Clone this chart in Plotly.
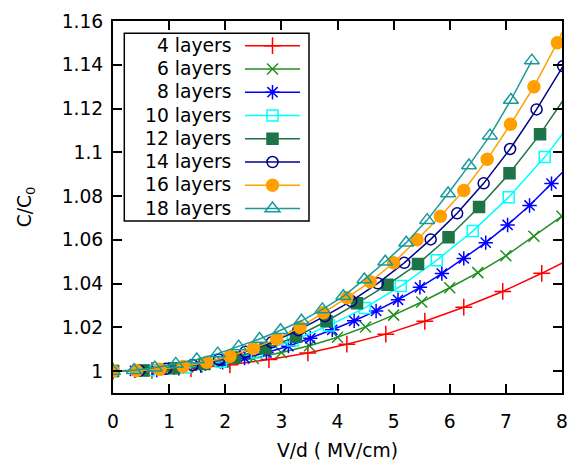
import plotly.graph_objects as go

# ---- data ----
x4 = [0, 0.694, 1.389, 2.083, 2.778, 3.472, 4.167, 4.861, 5.556, 6.25, 6.944, 7.639, 8.333]
y4 = [1.0, 1.0003, 1.0012, 1.0029, 1.0053, 1.0083, 1.0123, 1.0169, 1.0228, 1.0292, 1.0364, 1.0447, 1.0536]

x6 = [0, 0.5, 1.0, 1.5, 2.0, 2.5, 3.0, 3.5, 4.0, 4.5, 5.0, 5.5, 6.0, 6.5, 7.0, 7.5, 8.0]
y6 = [1.0, 1.0002, 1.0008, 1.0019, 1.0036, 1.0058, 1.0085, 1.0116, 1.0155, 1.0202, 1.0256,
      1.0316, 1.0381, 1.0450, 1.0527, 1.0616, 1.0708]

x8 = [0, 0.391, 0.781, 1.172, 1.563, 1.953, 2.344, 2.734, 3.125, 3.516, 3.906, 4.297, 4.688,
      5.078, 5.469, 5.859, 6.25, 6.641, 7.031, 7.422, 7.813, 8.203]
y8 = [1.0, 1.0001, 1.0005, 1.0013, 1.0025, 1.0040, 1.0060, 1.0085, 1.0114, 1.0150, 1.0189,
      1.0230, 1.0275, 1.0326, 1.0383, 1.0446, 1.0515, 1.0587, 1.0668, 1.0757, 1.0857, 1.0960]

x10 = [0, 0.641, 1.282, 1.923, 2.564, 3.205, 3.846, 4.487, 5.128, 5.769, 6.410, 7.051, 7.692, 8.333]
y10 = [1.0, 1.0004, 1.0017, 1.0043, 1.0085, 1.0140, 1.0208, 1.0289, 1.0389, 1.0507, 1.0640,
       1.0795, 1.0978, 1.1190]

x12 = [0, 0.543, 1.087, 1.630, 2.174, 2.717, 3.261, 3.804, 4.348, 4.891, 5.435, 5.978, 6.522,
       7.065, 7.609, 8.152]
y12 = [1.0, 1.0003, 1.0013, 1.0032, 1.0062, 1.0104, 1.0157, 1.0228, 1.0310, 1.0395, 1.0490,
       1.0612, 1.0750, 1.0904, 1.1083, 1.1288]

x14 = [0, 0.472, 0.943, 1.415, 1.887, 2.358, 2.830, 3.302, 3.774, 4.245, 4.717, 5.189, 5.660,
       6.132, 6.604, 7.075, 7.547, 8.019]
y14 = [1.0, 1.0002, 1.0011, 1.0028, 1.0053, 1.0088, 1.0132, 1.0187, 1.0251, 1.0320, 1.0401,
       1.0495, 1.0602, 1.0721, 1.0858, 1.1015, 1.1196, 1.1394]

x16 = [0, 0.417, 0.833, 1.25, 1.667, 2.083, 2.5, 2.917, 3.333, 3.75, 4.167, 4.583, 5.0, 5.417,
       5.833, 6.25, 6.667, 7.083, 7.5, 7.917, 8.333]
y16 = [1.0, 1.0002, 1.0008, 1.0021, 1.0041, 1.0068, 1.0103, 1.0147, 1.0200, 1.0267, 1.0335,
       1.0408, 1.0495, 1.0600, 1.0708, 1.0825, 1.0968, 1.1128, 1.1300, 1.1501, 1.1730]

x18 = [0, 0.373, 0.746, 1.119, 1.493, 1.866, 2.239, 2.612, 2.985, 3.358, 3.731, 4.104, 4.478,
       4.851, 5.224, 5.597, 5.970, 6.343, 6.716, 7.090, 7.463]
y18 = [1.0, 1.0004, 1.0015, 1.0033, 1.0053, 1.0080, 1.0112, 1.0147, 1.0187, 1.0230, 1.0282,
       1.0342, 1.0419, 1.0500, 1.0587, 1.0690, 1.0812, 1.0940, 1.1076, 1.1239, 1.1419]

names = ["4 layers", "6 layers", "8 layers", "10 layers", "12 layers", "14 layers", "16 layers", "18 layers"]
xs = [x4, x6, x8, x10, x12, x14, x16, x18]
ys = [y4, y6, y8, y10, y12, y14, y16, y18]

y_tickvals = [1.0, 1.02, 1.04, 1.06, 1.08, 1.10, 1.12, 1.14, 1.16]
y_ticktext = ["1", "1.02", "1.04", "1.06", "1.08", "1.1", "1.12", "1.14", "1.16"]
x_tickvals = [0, 1, 2, 3, 4, 5, 6, 7, 8]

# ---- styles ----
colors = ["#ff0000", "#1f8f1f", "#0000ff", "#00ffff", "#1d7446", "#00008b", "#ffa000", "#199a9a"]
symbols = ["cross-thin-open", "x-thin-open", "asterisk-open", "square-open", "square",
           "circle-open", "circle", "triangle-up-open"]
sizes = [12, 11, 12, 11, 11, 11, 12, 13]

FONT = "DejaVu Sans, Liberation Sans, sans-serif"
FS = 18.7

W, H = 567, 461
ML, MR, MT, MB = 113, 5, 21, 68
PW, PH = W - ML - MR, H - MT - MB

def px_x(px):
    return (px - ML) / PW

def px_y(py):
    return (H - MB - py) / PH

fig = go.Figure()
for n, x, y, c, s, sz in zip(names, xs, ys, colors, symbols, sizes):
    fig.add_trace(go.Scatter(
        x=x, y=y, name="\u00a0", mode="lines+markers",
        hovertext=n, hoverinfo="x+y+text",
        line=dict(color=c, width=1.5),
        marker=dict(symbol=s, size=sz, color=c, line=dict(color=c, width=1.5)),
    ))

axis_common = dict(
    showline=True, linecolor="black", linewidth=2, mirror="ticks",
    ticks="inside", ticklen=9, tickwidth=1.5, tickcolor="black",
    showgrid=False, zeroline=False, automargin=False,
    ticklabeloverflow="allow",
    tickfont=dict(family=FONT, size=FS, color="black"),
)

# legend frame (gnuplot style key box) and right-aligned key texts
row_px = [45.0, 68.3, 91.6, 115.0, 138.3, 161.6, 184.9, 208.2]
annotations = [
    dict(x=px_x(232.7), y=px_y(py), xref="paper", yref="paper", text=n,
         showarrow=False, xanchor="right", yanchor="middle",
         font=dict(family=FONT, size=FS, color="black"))
    for n, py in zip(names, row_px)
]
shapes = [dict(type="rect", xref="paper", yref="paper",
               x0=px_x(124.3), x1=px_x(309), y0=px_y(221), y1=px_y(33.3),
               line=dict(color="black", width=1.5), fillcolor="white", layer="above")]

fig.update_layout(
    width=W, height=H,
    margin=dict(l=ML, r=MR, t=MT, b=MB),
    paper_bgcolor="white", plot_bgcolor="white",
    font=dict(family=FONT, size=FS, color="black"),
    showlegend=True,
    legend=dict(
        x=px_x(240), y=px_y(29), xanchor="left", yanchor="top",
        bgcolor="rgba(0,0,0,0)", borderwidth=0,
        font=dict(family=FONT, size=15.6, color="black"),
        itemwidth=55, traceorder="normal", tracegroupgap=0,
    ),
    annotations=annotations,
    shapes=shapes,
)
fig.update_xaxes(
    range=[0, 8], tickvals=x_tickvals,
    title=dict(text="V/d ( MV/cm)", font=dict(family=FONT, size=FS), standoff=15),
    ticklabelstandoff=11,
    **axis_common,
)
fig.update_yaxes(
    range=[0.99, 1.16], tickvals=y_tickvals, ticktext=y_ticktext,
    title=dict(text="C/C<sub>0</sub>", font=dict(family=FONT, size=FS), standoff=25),
    ticklabelstandoff=4,
    **axis_common,
)

fig.write_html("out.html")
